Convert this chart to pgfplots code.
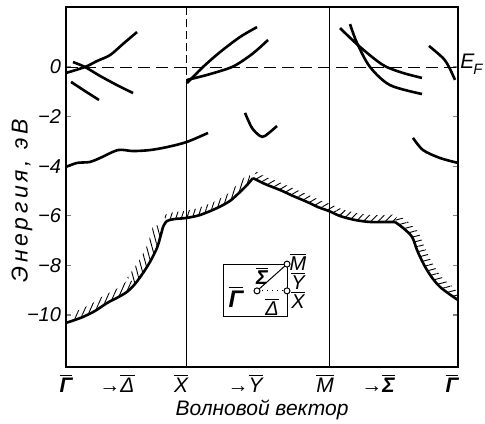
\documentclass[border=0pt]{standalone}
\usepackage{pgfplots}
\pgfplotsset{compat=1.18}
\usepackage{fontspec}
\setmainfont{Liberation Sans}
\usetikzlibrary{patterns.meta}
\newcommand\ob[1]{\ensuremath{\overline{\mbox{#1}}}}
\begin{document}
\begin{tikzpicture}
\begin{axis}[
  scale only axis, width=196pt, height=180pt,
  xmin=0, xmax=392, ymin=-12.1, ymax=2.42,
  clip=false,
  axis line style={line width=0.8pt},
  tick align=inside, major tick length=2.5pt,
  x tick style={draw=none},
  y tick style={line width=0.6pt},
  xtick={0,51,115,179,259,312,386},
  xticklabels={{\bfseries\itshape\ob{Γ}},{\itshape →\ob{Δ}},{\itshape\ob{X}},{\itshape →\ob{Y}},{\itshape\ob{M}},{\bfseries\itshape →\ob{Σ}},{\bfseries\itshape\ob{Γ}}},
  ytick={-10,-8,-6,-4,-2,0},
  yticklabels={−10,−8,−6,−4,−2,0},
  xticklabel style={font=\fontsize{10.5}{12}\selectfont},
  yticklabel style={font=\fontsize{10}{12}\selectfont\itshape, xshift=1pt},
]
\coordinate (bl) at (rel axis cs:0,0);
\coordinate (tr) at (rel axis cs:1,1);
% reference lines
\addplot[line width=0.5pt, dash pattern=on 6pt off 3pt] coordinates {(0,0) (392,0)};
\addplot[line width=0.5pt, dash pattern=on 4pt off 2pt] coordinates {(120,2.42) (120,-0.5)};
\addplot[line width=0.5pt] coordinates {(120,-0.5) (120,-12.1)};
\addplot[line width=0.5pt] coordinates {(263,2.42) (263,-12.1)};
% hatching above the lower edge of the valence band
\addplot[draw=none, pattern={Lines[angle=66,distance=2.6pt,line width=0.45pt]}] coordinates {(9,-10.20) (17,-10.08) (29,-9.84) (41,-9.52) (51,-9.31) (61,-9.07) (69,-8.75) (62.9,-8.54) (56.1,-8.81) (47.1,-9.03) (36.9,-9.24) (25,-9.56) (13.7,-9.79) (6.4,-9.90)};
\addplot[draw=none, pattern={Lines[angle=105,distance=2.6pt,line width=0.45pt]}] coordinates {(69,-8.75) (77,-8.31) (84,-7.86) (91,-7.30) (94,-6.90) (97,-6.45) (87.3,-6.35) (84.4,-6.79) (81.8,-7.14) (75.3,-7.67) (68.7,-8.08) (61.3,-8.49)};
\addplot[draw=none, pattern={Lines[angle=72,distance=2.6pt,line width=0.45pt]}] coordinates {(101,-6.21) (109,-6.13) (120,-6.09) (134,-5.97) (151,-5.69) (164,-5.40) (174,-5.04) (181,-4.76) (187,-4.48) (181.6,-4.30) (175.9,-4.56) (169.2,-4.83) (160,-5.17) (148,-5.44) (131.8,-5.70) (118.9,-5.81) (107.9,-5.85) (97.1,-5.98)};
\addplot[draw=none, pattern={Lines[angle=30,distance=2.6pt,line width=0.45pt]}] coordinates {(187,-4.48) (199,-4.72) (214,-4.96) (227,-5.20) (241,-5.44) (252,-5.65) (263,-5.81) (274,-6.01) (276.3,-5.75) (265.6,-5.55) (254.7,-5.39) (243.8,-5.18) (229.8,-4.94) (216.7,-4.70) (202.1,-4.47) (190,-4.22)};
\addplot[draw=none, pattern={Lines[angle=45,distance=2.6pt,line width=0.45pt]}] coordinates {(274,-6.01) (289,-6.17) (304,-6.25) (319,-6.25) (329,-6.25) (331.7,-5.95) (319,-5.97) (304.5,-5.97) (290.3,-5.89) (276.3,-5.75)};
\addplot[draw=none, pattern={Lines[angle=15,distance=2.6pt,line width=0.45pt]}] coordinates {(329,-6.25) (337,-6.49) (346,-6.85) (351,-7.38) (356,-7.82) (361,-8.19) (367,-8.55) (374,-8.87) (383,-9.15) (392,-9.40) (392,-9.15) (387.7,-8.89) (379.5,-8.63) (373.3,-8.35) (367.9,-8.02) (363.1,-7.67) (358.4,-7.25) (352.7,-6.67) (342.2,-6.25) (331.7,-5.95)};
% bands
\addplot[line width=1.3pt, smooth] coordinates {(0,-0.24) (19,0) (31,0.24) (44,0.48) (57,0.93) (71,1.41)};
\addplot[line width=1.3pt, smooth] coordinates {(7,0.20) (19,0) (34,-0.36) (51,-0.73) (67,-1.05)};
\addplot[line width=1.3pt, smooth] coordinates {(5,-0.60) (19,-0.97) (33,-1.33)};
\addplot[line width=1.3pt, smooth] coordinates {(0,-4.03) (11,-3.87) (24,-3.83) (34,-3.67) (52,-3.35) (67,-3.39) (84,-3.35) (101,-3.23) (121,-3.02) (142,-2.66)};
\addplot[line width=1.3pt, smooth] coordinates {(121,-0.65) (137,0) (154,0.60) (174,1.21) (191,1.61)};
\addplot[line width=1.3pt, smooth] coordinates {(121,-0.52) (141,-0.32) (166,0) (182,0.40) (192,0.72) (202,1.09)};
\addplot[line width=1.3pt, smooth] coordinates {(179,-1.85) (186,-2.46) (194,-2.78) (199,-2.78) (211,-2.38)};
\addplot[line width=1.3pt, smooth] coordinates {(274,1.57) (294,0.81) (317,0.08) (337,-0.24) (356,-0.44)};
\addplot[line width=1.3pt, smooth] coordinates {(284,1.73) (291,0.97) (304,0) (324,-0.73) (356,-1.09)};
\addplot[line width=1.3pt, smooth] coordinates {(363,0.85) (377,0.36) (383,0) (389,-0.52)};
\addplot[line width=1.3pt, smooth] coordinates {(347,-2.86) (357,-3.35) (374,-3.67) (392,-3.87)};
% lower edge of valence band
\addplot[line width=1.3pt, smooth] coordinates {(0,-10.32) (9,-10.20) (17,-10.08) (29,-9.84) (41,-9.52) (51,-9.31) (61,-9.07) (69,-8.75) (77,-8.31) (84,-7.86) (91,-7.30) (94,-6.90) (97,-6.45)};
\addplot[line width=1.3pt, smooth] coordinates {(97,-6.45) (101,-6.21) (109,-6.13) (120,-6.09) (134,-5.97) (151,-5.69) (164,-5.40) (174,-5.04) (181,-4.76) (187,-4.48)};
\addplot[line width=1.3pt, smooth] coordinates {(187,-4.48) (199,-4.72) (214,-4.96) (227,-5.20) (241,-5.44) (252,-5.65) (263,-5.81) (274,-6.01) (289,-6.17) (304,-6.25) (319,-6.25) (329,-6.25)};
\addplot[line width=1.3pt, smooth] coordinates {(329,-6.25) (337,-6.49) (346,-6.85) (351,-7.38) (356,-7.82) (361,-8.19) (367,-8.55) (374,-8.87) (383,-9.15) (392,-9.40)};
% inset: surface Brillouin zone
\addplot[line width=0.5pt] coordinates {(157,-7.95) (221,-7.95) (221,-10.08) (157,-10.08) (157,-7.95)};
\addplot[line width=0.5pt] coordinates {(191,-9.03) (221,-7.95)};
\addplot[line width=0.5pt, dotted] coordinates {(191,-9.03) (221,-9.03)};
\addplot[only marks, mark=*, mark size=1.5pt, mark options={fill=white, draw=black, line width=0.5pt}] coordinates {(191,-9.03) (221,-9.03) (221,-7.95)};
\node[font=\fontsize{12}{13}\selectfont\bfseries\itshape] at (axis cs:170,-9.27) {\ob{Γ}};
\node[font=\fontsize{10}{12}\selectfont\bfseries\itshape] at (axis cs:196,-8.43) {\ob{Σ}};
\node[font=\fontsize{10}{12}\selectfont\itshape] at (axis cs:206,-9.68) {\ob{Δ}};
\node[font=\fontsize{10}{12}\selectfont\itshape] at (axis cs:232,-7.86) {\ob{M}};
\node[font=\fontsize{10}{12}\selectfont\itshape] at (axis cs:232,-8.63) {\ob{Y}};
\node[font=\fontsize{10}{12}\selectfont\itshape] at (axis cs:232,-9.40) {\ob{X}};
% labels
\node[anchor=west, font=\fontsize{10.5}{12}\selectfont\itshape, inner sep=0pt] at (axis cs:394,0.1) {E\kern-0.5pt\raisebox{-0.5ex}{\fontsize{7.5}{9}\selectfont F}};
\node[rotate=90, font=\fontsize{11.5}{12}\selectfont\itshape\addfontfeature{LetterSpace=16}] at (axis cs:-44,-5.40) {Энергия, эВ};
\node[font=\fontsize{10.5}{12}\selectfont\itshape] at (axis cs:196,-13.83) {Волновой вектор};
\end{axis}
\pgfresetboundingbox
\useasboundingbox ([shift={(-33pt,-28pt)}]bl) rectangle ([shift={(13.5pt,3.5pt)}]tr);
\end{tikzpicture}
\end{document}
